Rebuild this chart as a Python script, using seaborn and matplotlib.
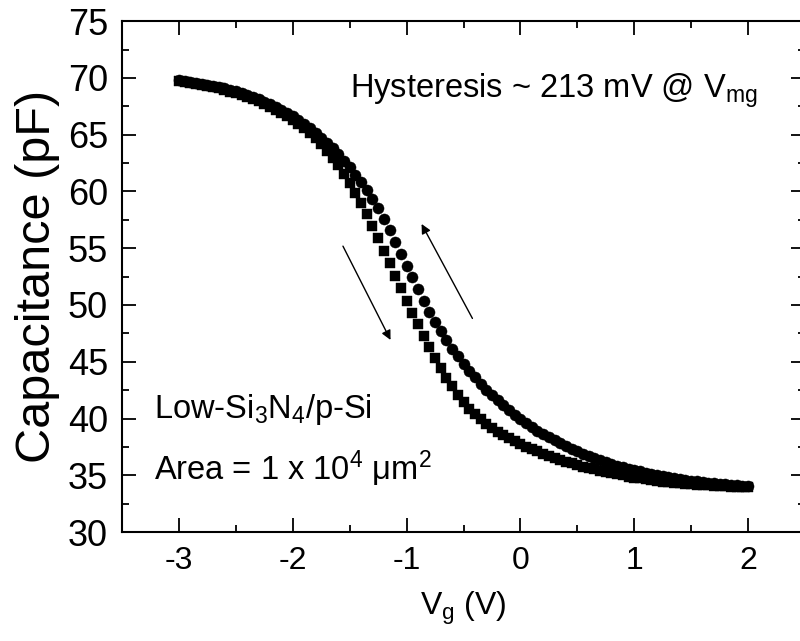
### C-V hysteresis plot: forward (squares) and reverse (circles) sweeps ###

import matplotlib

matplotlib.use("Agg")
import matplotlib.pyplot as plt
import pandas as pd
import seaborn as sns
from matplotlib.ticker import MultipleLocator

# gate voltage sweep, 50 mV steps (V)
gate_voltage = [
    -3.00, -2.95, -2.90, -2.85, -2.80, -2.75, -2.70, -2.65, -2.60, -2.55,
    -2.50, -2.45, -2.40, -2.35, -2.30, -2.25, -2.20, -2.15, -2.10, -2.05,
    -2.00, -1.95, -1.90, -1.85, -1.80, -1.75, -1.70, -1.65, -1.60, -1.55,
    -1.50, -1.45, -1.40, -1.35, -1.30, -1.25, -1.20, -1.15, -1.10, -1.05,
    -1.00, -0.95, -0.90, -0.85, -0.80, -0.75, -0.70, -0.65, -0.60, -0.55,
    -0.50, -0.45, -0.40, -0.35, -0.30, -0.25, -0.20, -0.15, -0.10, -0.05,
    0.00, 0.05, 0.10, 0.15, 0.20, 0.25, 0.30, 0.35, 0.40, 0.45,
    0.50, 0.55, 0.60, 0.65, 0.70, 0.75, 0.80, 0.85, 0.90, 0.95,
    1.00, 1.05, 1.10, 1.15, 1.20, 1.25, 1.30, 1.35, 1.40, 1.45,
    1.50, 1.55, 1.60, 1.65, 1.70, 1.75, 1.80, 1.85, 1.90, 1.95,
    2.00,
]

# forward sweep (squares), pF
cap_forward = [
    69.70, 69.64, 69.57, 69.49, 69.40, 69.30, 69.19, 69.07, 68.94, 68.80,
    68.65, 68.49, 68.32, 68.13, 67.93, 67.71, 67.47, 67.21, 66.93, 66.63,
    66.30, 65.94, 65.55, 65.13, 64.67, 64.17, 63.60, 62.98, 62.30, 61.56,
    60.76, 59.90, 58.98, 58.00, 56.95, 55.87, 54.77, 53.66, 52.56, 51.47,
    50.39, 49.33, 48.29, 47.28, 46.30, 45.36, 44.46, 43.61, 42.82, 42.10,
    41.45, 40.88, 40.38, 39.93, 39.53, 39.17, 38.84, 38.54, 38.26, 38.00,
    37.76, 37.53, 37.31, 37.10, 36.90, 36.71, 36.53, 36.36, 36.20, 36.05,
    35.91, 35.77, 35.64, 35.52, 35.40, 35.29, 35.18, 35.08, 34.98, 34.89,
    34.80, 34.72, 34.65, 34.58, 34.51, 34.45, 34.39, 34.34, 34.29, 34.24,
    34.20, 34.16, 34.13, 34.10, 34.07, 34.05, 34.03, 34.01, 34.00, 33.99,
    33.98,
]

# reverse sweep (circles), pF
cap_reverse = [
    69.80, 69.74, 69.67, 69.59, 69.50, 69.41, 69.31, 69.20, 69.08, 68.95,
    68.81, 68.66, 68.50, 68.32, 68.13, 67.92, 67.70, 67.46, 67.20, 66.92,
    66.62, 66.30, 65.95, 65.58, 65.18, 64.75, 64.29, 63.80, 63.27, 62.71,
    62.11, 61.48, 60.81, 60.10, 59.35, 58.50, 57.60, 56.57, 55.53, 54.50,
    53.46, 52.43, 51.40, 50.38, 49.42, 48.52, 47.68, 46.89, 46.16, 45.48,
    44.82, 44.20, 43.62, 43.07, 42.55, 42.06, 41.60, 41.16, 40.74, 40.34,
    39.96, 39.60, 39.26, 38.94, 38.63, 38.34, 38.07, 37.81, 37.56, 37.33,
    37.11, 36.90, 36.70, 36.51, 36.33, 36.16, 36.00, 35.85, 35.71, 35.58,
    35.46, 35.34, 35.23, 35.12, 35.02, 34.92, 34.83, 34.75, 34.67, 34.60,
    34.53, 34.47, 34.41, 34.35, 34.30, 34.25, 34.20, 34.16, 34.12, 34.08,
    34.04,
]

assert len(gate_voltage) == len(cap_forward) == len(cap_reverse)

sns.set_style("ticks")
plt.rcParams["font.family"] = ["Liberation Sans", "DejaVu Sans"]
plt.rcParams["mathtext.default"] = "regular"
plt.rcParams["axes.unicode_minus"] = False
plt.rcParams["text.color"] = "black"
plt.rcParams["axes.labelcolor"] = "black"

df_fwd = pd.DataFrame({"Vg": gate_voltage, "C": cap_forward})
df_rev = pd.DataFrame({"Vg": gate_voltage, "C": cap_reverse})

fig = plt.figure(figsize=(8, 6.41), dpi=100)
ax = fig.add_axes([0.1525, 0.170, 0.85375, 0.797])

sns.scatterplot(data=df_fwd, x="Vg", y="C", marker="s", s=46, color="black",
                edgecolor="black", linewidth=0.3, ax=ax, zorder=3)
sns.scatterplot(data=df_rev, x="Vg", y="C", marker="o", s=64, color="black",
                edgecolor="black", linewidth=0.3, ax=ax, zorder=4)

ax.set_xlim(-3.5, 2.5)
ax.set_ylim(30, 75)
ax.xaxis.set_major_locator(MultipleLocator(1))
ax.xaxis.set_minor_locator(MultipleLocator(0.5))
ax.yaxis.set_major_locator(MultipleLocator(5))
ax.yaxis.set_minor_locator(MultipleLocator(2.5))
ax.tick_params(which="both", direction="in", top=True, right=True, width=1.3,
               colors="black")
ax.tick_params(axis="x", labelsize=23)
ax.tick_params(axis="y", labelsize=26)
ax.tick_params(which="major", length=10, pad=10)
ax.tick_params(which="minor", length=5)
for sp in ax.spines.values():
    sp.set_visible(True)
    sp.set_linewidth(1.5)
    sp.set_color("black")

ax.set_xlabel("V$_g$ (V)", fontsize=23, labelpad=10)
ax.set_ylabel("Capacitance (pF)", fontsize=35, labelpad=6)

ax.text(-1.5, 68.9, "Hysteresis ~ 213 mV @ V$_{mg}$", fontsize=23.5,
        va="center", ha="left")
ax.text(-3.22, 40.8, "Low-Si$_3$N$_4$/p-Si", fontsize=23.5, va="center", ha="left")
ax.text(-3.22, 35.6, "Area = 1 x 10$^4$ μm$^2$", fontsize=23.5, va="center", ha="left")

arrow_kw = dict(arrowstyle="-|>", color="black", lw=1.0, mutation_scale=14)
ax.annotate("", xy=(-1.13, 46.7), xytext=(-1.57, 55.4), arrowprops=arrow_kw)
ax.annotate("", xy=(-0.88, 57.35), xytext=(-0.41, 48.6), arrowprops=arrow_kw)

fig.savefig("out.png", dpi=100)
